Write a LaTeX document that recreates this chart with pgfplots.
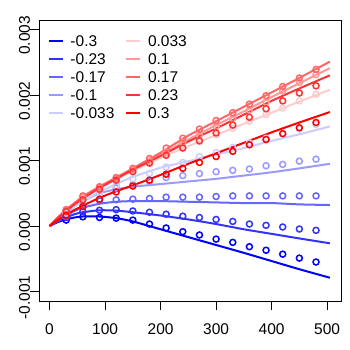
\documentclass[border=0pt]{standalone}
\usepackage{fontspec}
\setmainfont{Liberation Sans}
\usepackage{pgfplots}
\usepackage{pgfplotstable}
\pgfplotsset{compat=1.18}

\definecolor{cA}{RGB}{0,0,255}
\definecolor{cB}{RGB}{51,51,255}
\definecolor{cC}{RGB}{102,102,255}
\definecolor{cD}{RGB}{153,153,255}
\definecolor{cE}{RGB}{204,204,255}
\definecolor{cF}{RGB}{255,204,204}
\definecolor{cG}{RGB}{255,153,153}
\definecolor{cH}{RGB}{255,102,102}
\definecolor{cI}{RGB}{255,51,51}
\definecolor{cJ}{RGB}{255,0,0}

% y in units of 0.001
\pgfplotstableread{
x   m30    m23    m17   m10   m03   p03   p10   p17   p23   p30
0   0      0      0     0     0     0     0     0     0     0
15  0.06   0.07   0.085 0.10  0.11  0.125 0.13  0.13  0.12  0.09
30  0.10   0.13   0.16  0.19  0.21  0.24  0.25  0.25  0.23  0.17
45  0.13   0.18   0.23  0.30  0.30  0.34  0.35  0.35  0.33  0.245
60  0.145  0.21   0.28  0.38  0.38  0.43  0.45  0.45  0.42  0.31
90  0.145  0.24   0.34  0.50  0.52  0.58  0.60  0.60  0.58  0.43
120 0.12   0.235  0.37  0.56  0.64  0.71  0.73  0.74  0.72  0.53
150 0.07   0.21   0.38  0.60  0.75  0.84  0.86  0.88  0.86  0.62
200 -0.05  0.16   0.38  0.64  0.89  1.04  1.09  1.12  1.07  0.78
250 -0.17  0.10   0.37  0.68  0.99  1.22  1.32  1.38  1.29  0.95
300 -0.29  0.03   0.36  0.72  1.09  1.39  1.54  1.60  1.49  1.11
350 -0.41  -0.05  0.35  0.77  1.19  1.56  1.75  1.82  1.70  1.27
400 -0.535 -0.12  0.35  0.82  1.30  1.73  1.97  2.04  1.91  1.43
450 -0.66  -0.19  0.33  0.88  1.40  1.90  2.18  2.26  2.10  1.58
505 -0.79  -0.264 0.32  0.95  1.52  2.08  2.41  2.51  2.30  1.74
}\curves

\pgfplotstableread{
x   m30    m23    m17   m10   m03   p03   p10   p17   p23   p30
30  0.09   0.13   0.15  0.19  0.20  0.24  0.24  0.25  0.22  0.16
60  0.14   0.22   0.30  0.40  0.39  0.43  0.44  0.46  0.40  0.295
90  0.13   0.24   0.39  0.52  0.52  0.58  0.58  0.60  0.56  0.41
120 0.12   0.25   0.40  0.58  0.62  0.71  0.72  0.74  0.70  0.52
150 0.09   0.23   0.41  0.63  0.72  0.84  0.86  0.88  0.83  0.61
180 0.03   0.21   0.42  0.68  0.80  0.96  0.99  1.03  0.96  0.70
210 -0.03  0.18   0.44  0.74  0.90  1.08  1.12  1.19  1.08  0.79
240 -0.087 0.15   0.44  0.77  0.97  1.19  1.27  1.34  1.19  0.88
270 -0.137 0.13   0.44  0.80  1.06  1.29  1.39  1.48  1.30  0.97
300 -0.20  0.10   0.45  0.83  1.12  1.39  1.52  1.61  1.42  1.06
330 -0.25  0.07   0.46  0.85  1.20  1.49  1.64  1.73  1.54  1.14
360 -0.316 0.03   0.46  0.87  1.27  1.60  1.77  1.86  1.66  1.24
390 -0.37  0.01   0.46  0.92  1.34  1.70  1.89  1.99  1.79  1.32
420 -0.43  -0.015 0.46  0.94  1.41  1.80  2.06  2.13  1.91  1.41
450 -0.49  -0.046 0.46  0.99  1.48  1.91  2.19  2.26  2.03  1.50
480 -0.55  -0.066 0.46  1.02  1.55  2.01  2.31  2.39  2.14  1.58
}\sims

\pgfplotsset{
  curve/.style={#1, line width=2pt, smooth, tension=0.4, forget plot},
  sim/.style={#1, only marks, mark=o, mark size=3pt, line width=1.5pt, forget plot},
}

\begin{document}
\begin{tikzpicture}
\begin{axis}[
  width=302pt, height=281pt, scale only axis,
  xmin=-19, xmax=525, ymin=-1.145, ymax=3.145,
  axis line style={line width=0.8pt},
  tick align=outside, xtick pos=bottom, ytick pos=left,
  major tick length=9pt,
  tick style={black, line width=0.8pt},
  xtick={0,100,200,300,400,500},
  xticklabels={0,100,200,300,400,500},
  ytick={-1,0,1,2,3},
  yticklabels={-0.001,0.000,0.001,0.002,0.003},
  ticklabel style={font=\fontsize{15.5}{18}\selectfont, inner sep=0pt},
  xticklabel style={anchor=north, text height=11pt, text depth=0pt, yshift=-13pt},
  yticklabel style={rotate=90, anchor=south, text height=11pt, text depth=0pt, xshift=-6pt},
  legend columns=2,
  legend cell align=left,
  legend image code/.code={\draw[#1, line width=2pt] (0pt,0pt) -- (14pt,0pt);},
  legend style={draw=none, fill=none, at={(0,1)}, anchor=north west,
    xshift=8.7pt, yshift=-15.5pt, inner sep=0pt, row sep=7pt,
    font=\fontsize{15.5}{18}\selectfont,
    nodes={inner sep=0pt, text height=11pt, text depth=0pt},
    /tikz/every odd column/.append style={column sep=6.6pt},
    /tikz/every even column/.append style={column sep=11pt}},
]
\addplot[curve=cA] table[x=x,y=m30]{\curves};
\addplot[sim=cA] table[x=x,y=m30]{\sims};
\addplot[curve=cB] table[x=x,y=m23]{\curves};
\addplot[sim=cB] table[x=x,y=m23]{\sims};
\addplot[curve=cC] table[x=x,y=m17]{\curves};
\addplot[sim=cC] table[x=x,y=m17]{\sims};
\addplot[curve=cD] table[x=x,y=m10]{\curves};
\addplot[sim=cD] table[x=x,y=m10]{\sims};
\addplot[curve=cE] table[x=x,y=m03]{\curves};
\addplot[sim=cE] table[x=x,y=m03]{\sims};
\addplot[curve=cF] table[x=x,y=p03]{\curves};
\addplot[sim=cF] table[x=x,y=p03]{\sims};
\addplot[curve=cG] table[x=x,y=p10]{\curves};
\addplot[sim=cG] table[x=x,y=p10]{\sims};
\addplot[curve=cH] table[x=x,y=p17]{\curves};
\addplot[sim=cH] table[x=x,y=p17]{\sims};
\addplot[curve=cI] table[x=x,y=p23]{\curves};
\addplot[sim=cI] table[x=x,y=p23]{\sims};
\addplot[curve=cJ] table[x=x,y=p30]{\curves};
\addplot[sim=cJ] table[x=x,y=p30]{\sims};

\addlegendimage{cA}\addlegendentry{-0.3}
\addlegendimage{cF}\addlegendentry{0.033}
\addlegendimage{cB}\addlegendentry{-0.23}
\addlegendimage{cG}\addlegendentry{0.1}
\addlegendimage{cC}\addlegendentry{-0.17}
\addlegendimage{cH}\addlegendentry{0.17}
\addlegendimage{cD}\addlegendentry{-0.1}
\addlegendimage{cI}\addlegendentry{0.23}
\addlegendimage{cE}\addlegendentry{-0.033}
\addlegendimage{cJ}\addlegendentry{0.3}
\end{axis}
\pgfresetboundingbox
\useasboundingbox ([shift={(-39pt,-49pt)}]current axis.south west)
  rectangle ([shift={(9pt,20pt)}]current axis.north east);
\end{tikzpicture}
\end{document}
